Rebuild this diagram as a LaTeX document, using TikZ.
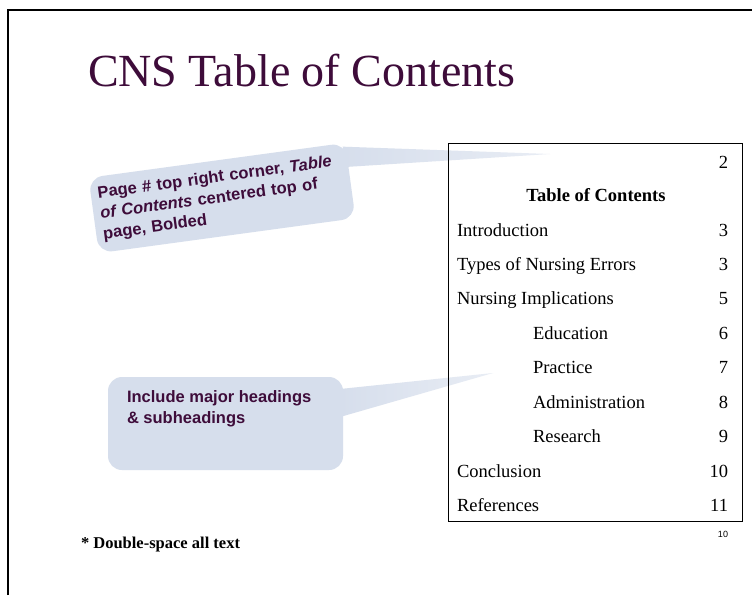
\documentclass[tikz,border=0pt]{standalone}
\usepackage{fontspec}
\setmainfont{Liberation Serif}
\newfontfamily\arialf{Liberation Sans}
\usetikzlibrary{calc}
\definecolor{plum}{RGB}{62,12,58}
\definecolor{bubble}{RGB}{214,222,236}
\begin{document}
\begin{tikzpicture}[x=1pt,y=-1pt,
  every node/.style={inner sep=0pt, outer sep=0pt},
  entry/.style={anchor=base west, font=\fontsize{18.5}{20}\selectfont},
  pagenum/.style={anchor=base east, font=\fontsize{18.5}{20}\selectfont},
  bubblebox/.style={fill=bubble, rounded corners=14pt},
  tailfill/.style={left color=bubble, right color=bubble!55!white},
  note/.style={font=\arialf\bfseries\fontsize{16.5}{20.5}\selectfont, text=plum, align=left}]
\useasboundingbox (0,0) rectangle (752,595);
\fill[white] (0,0) rectangle (752,595);
\draw[line width=2pt] (8,595) -- (8,10) -- (752,10);
% title
\node[anchor=base west, font=\fontsize{46}{50}\selectfont, text=plum] (title) at (88,86) {CNS Table of Contents};
% callout 1
\node[bubblebox, note, rotate=7.75, minimum width=259pt, minimum height=76pt, inner xsep=7pt, inner ysep=6pt, text width=245pt] (c1) at (222,198)
  {Page \# top right corner, \textit{Table}\\ \textit{of Contents} centered top of\\ page, Bolded};
\coordinate (tip1) at (550,154);
\shade[tailfill] ($(c1.north east)!0.05!(c1.south east)+(-3,0)$) -- (tip1) -- ($(c1.north east)!0.32!(c1.south east)+(-3,0)$) -- cycle;
% callout 2
\node[bubblebox, minimum width=235pt, minimum height=93pt, anchor=north west] (c2) at (108,377) {};
\coordinate (tip2) at (493,373);
\shade[tailfill] ($(c2.north east)+(-3,12)$) -- (tip2) -- ($(c2.north east)+(-3,40)$) -- cycle;
\node[note, anchor=north west] (c2t) at (127,391) {Include major headings\\ \& subheadings};
% TOC box
\node[draw, line width=1pt, minimum width=294pt, minimum height=378pt, anchor=north west] (toc) at (448,143) {};
\node[pagenum] (p0) at (728,168) {2};
\node[anchor=base, font=\bfseries\fontsize{18.5}{20}\selectfont] (tochead) at (596,201) {Table of Contents};
\node[entry] (e1) at (457,236) {Introduction};          \node[pagenum] (n1) at (728,236) {3};
\node[entry] (e2) at (457,270) {Types of Nursing Errors}; \node[pagenum] (n2) at (728,270) {3};
\node[entry] (e3) at (457,304) {Nursing Implications};  \node[pagenum] (n3) at (728,304) {5};
\node[entry] (e4) at (533,339) {Education};             \node[pagenum] (n4) at (728,339) {6};
\node[entry] (e5) at (533,373) {Practice};              \node[pagenum] (n5) at (728,373) {7};
\node[entry] (e6) at (533,408) {Administration};        \node[pagenum] (n6) at (728,408) {8};
\node[entry] (e7) at (533,442) {Research};              \node[pagenum] (n7) at (728,442) {9};
\node[entry] (e8) at (457,477) {Conclusion};            \node[pagenum] (n8) at (728,477) {10};
\node[entry] (e9) at (457,511) {References};            \node[pagenum] (n9) at (728,511) {11};
\node[anchor=base east, font=\arialf\fontsize{9}{10}\selectfont] (slide) at (728,537) {10};
% footnote
\node[anchor=base west, font=\bfseries\fontsize{16.5}{18}\selectfont] (dbl) at (81,548) {* Double-space all text};
\end{tikzpicture}
\end{document}
